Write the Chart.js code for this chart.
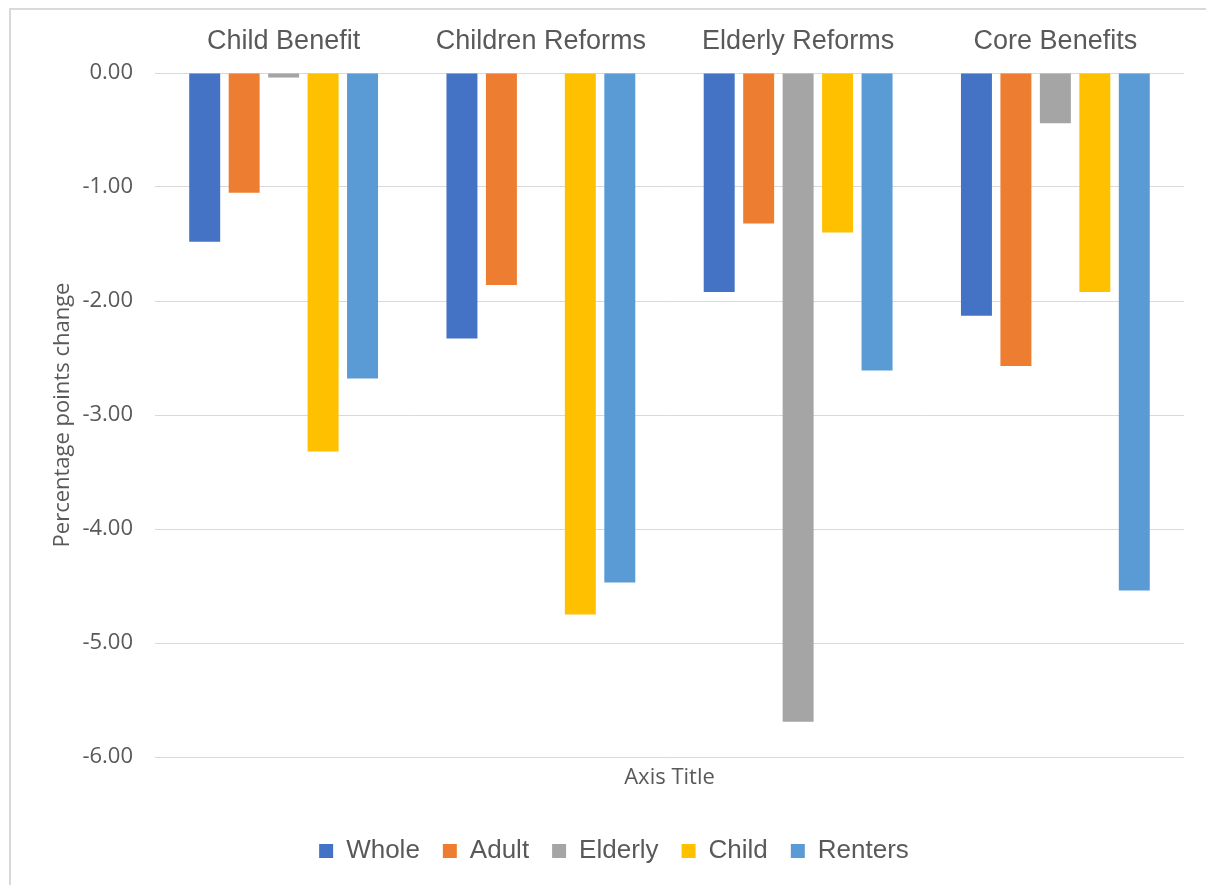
<!DOCTYPE html>
<html>
<head>
<meta charset="utf-8">
<script src="https://cdn.jsdelivr.net/npm/chart.js@4"></script>
<style>
    body { margin: 0; background: #fff; overflow: hidden; }
    .chart-frame {
        position: absolute;
        left: 9px;
        top: 8px;
        width: 1210px;
        height: 890px;
        border-left: 2px solid #d9d9d9;
        border-top: 2px solid #d9d9d9;
    }
    .chart-box {
        position: absolute;
        left: 11px;
        top: 10px;
        width: 1195px;
        height: 875px;
    }
</style>
</head>
<body>
<div class="chart-frame"></div>
<div class="chart-box"><canvas id="reformChart"></canvas></div>
<script>
const categories = ['Child Benefit', 'Children Reforms', 'Elderly Reforms', 'Core Benefits'];
const seriesNames = ['Whole', 'Adult', 'Elderly', 'Child', 'Renters'];
const wholeValues = [-1.48, -2.33, -1.92, -2.13];
const adultValues = [-1.05, -1.86, -1.32, -2.57];
const elderlyValues = [-0.04, 0, -5.69, -0.44];
const childValues = [-3.32, -4.75, -1.40, -1.92];
const rentersValues = [-2.68, -4.47, -2.61, -4.54];
const yTicks = [0, -1, -2, -3, -4, -5, -6];

const seriesColors = ['#4472C4', '#ED7D31', '#A5A5A5', '#FFC000', '#5B9BD5'];
const textColor = '#595959';
const gridColor = '#d9d9d9';

const seriesValues = [wholeValues, adultValues, elderlyValues, childValues, rentersValues];

//..one dataset per group
const datasets = seriesNames.map((name, i) => ({
    label: name,
    data: seriesValues[i],
    backgroundColor: seriesColors[i],
    borderWidth: 0,
    categoryPercentage: 0.767,
    barPercentage: 0.785
}));

new Chart(document.getElementById('reformChart'), {
    type: 'bar',
    data: {
        labels: categories,
        datasets: datasets
    },
    options: {
        responsive: true,
        maintainAspectRatio: false,
        animation: false,
        layout: {
            padding: { left: 33, right: 22, top: 0, bottom: 11 }
        },
        plugins: {
            legend: {
                position: 'bottom',
                labels: {
                    boxWidth: 14,
                    boxHeight: 14,
                    padding: 23,
                    color: textColor,
                    font: { family: '"Liberation Sans", Arial, sans-serif', size: 26 }
                }
            },
            tooltip: { enabled: false }
        },
        scales: {
            x: {
                position: 'top',
                grid: { display: false },
                border: { display: false },
                ticks: {
                    color: textColor,
                    padding: 7,
                    font: { family: '"Liberation Sans", Arial, sans-serif', size: 27 }
                },
                afterFit(scale) { scale.height = 63; }
            },
            //..bottom axis only carries the title
            xTitle: {
                type: 'category',
                position: 'bottom',
                grid: { display: false },
                border: { display: false },
                ticks: { display: false },
                title: {
                    display: true,
                    text: 'Axis Title',
                    color: textColor,
                    padding: { top: 0, bottom: 24 },
                    font: { family: '"Open Sans", sans-serif', size: 22 }
                },
                afterFit(scale) { scale.height = 58; }
            },
            y: {
                min: Math.min(...yTicks),
                max: Math.max(...yTicks),
                afterBuildTicks(scale) {
                    scale.ticks = yTicks.map(v => ({ value: v }));
                },
                grid: {
                    color: gridColor,
                    lineWidth: 1,
                    drawTicks: false,
                    tickLength: 0
                },
                border: { display: false },
                ticks: {
                    color: textColor,
                    padding: 22,
                    font: { family: '"Open Sans", sans-serif', size: 22 },
                    callback: v => v.toFixed(2)
                },
                title: {
                    display: true,
                    text: 'Percentage points change',
                    color: textColor,
                    padding: { top: 6, bottom: 0 },
                    font: { family: '"Open Sans", sans-serif', size: 22 }
                },
                afterFit(scale) { scale.width = 111; }
            }
        }
    }
});
</script>
</body>
</html>
